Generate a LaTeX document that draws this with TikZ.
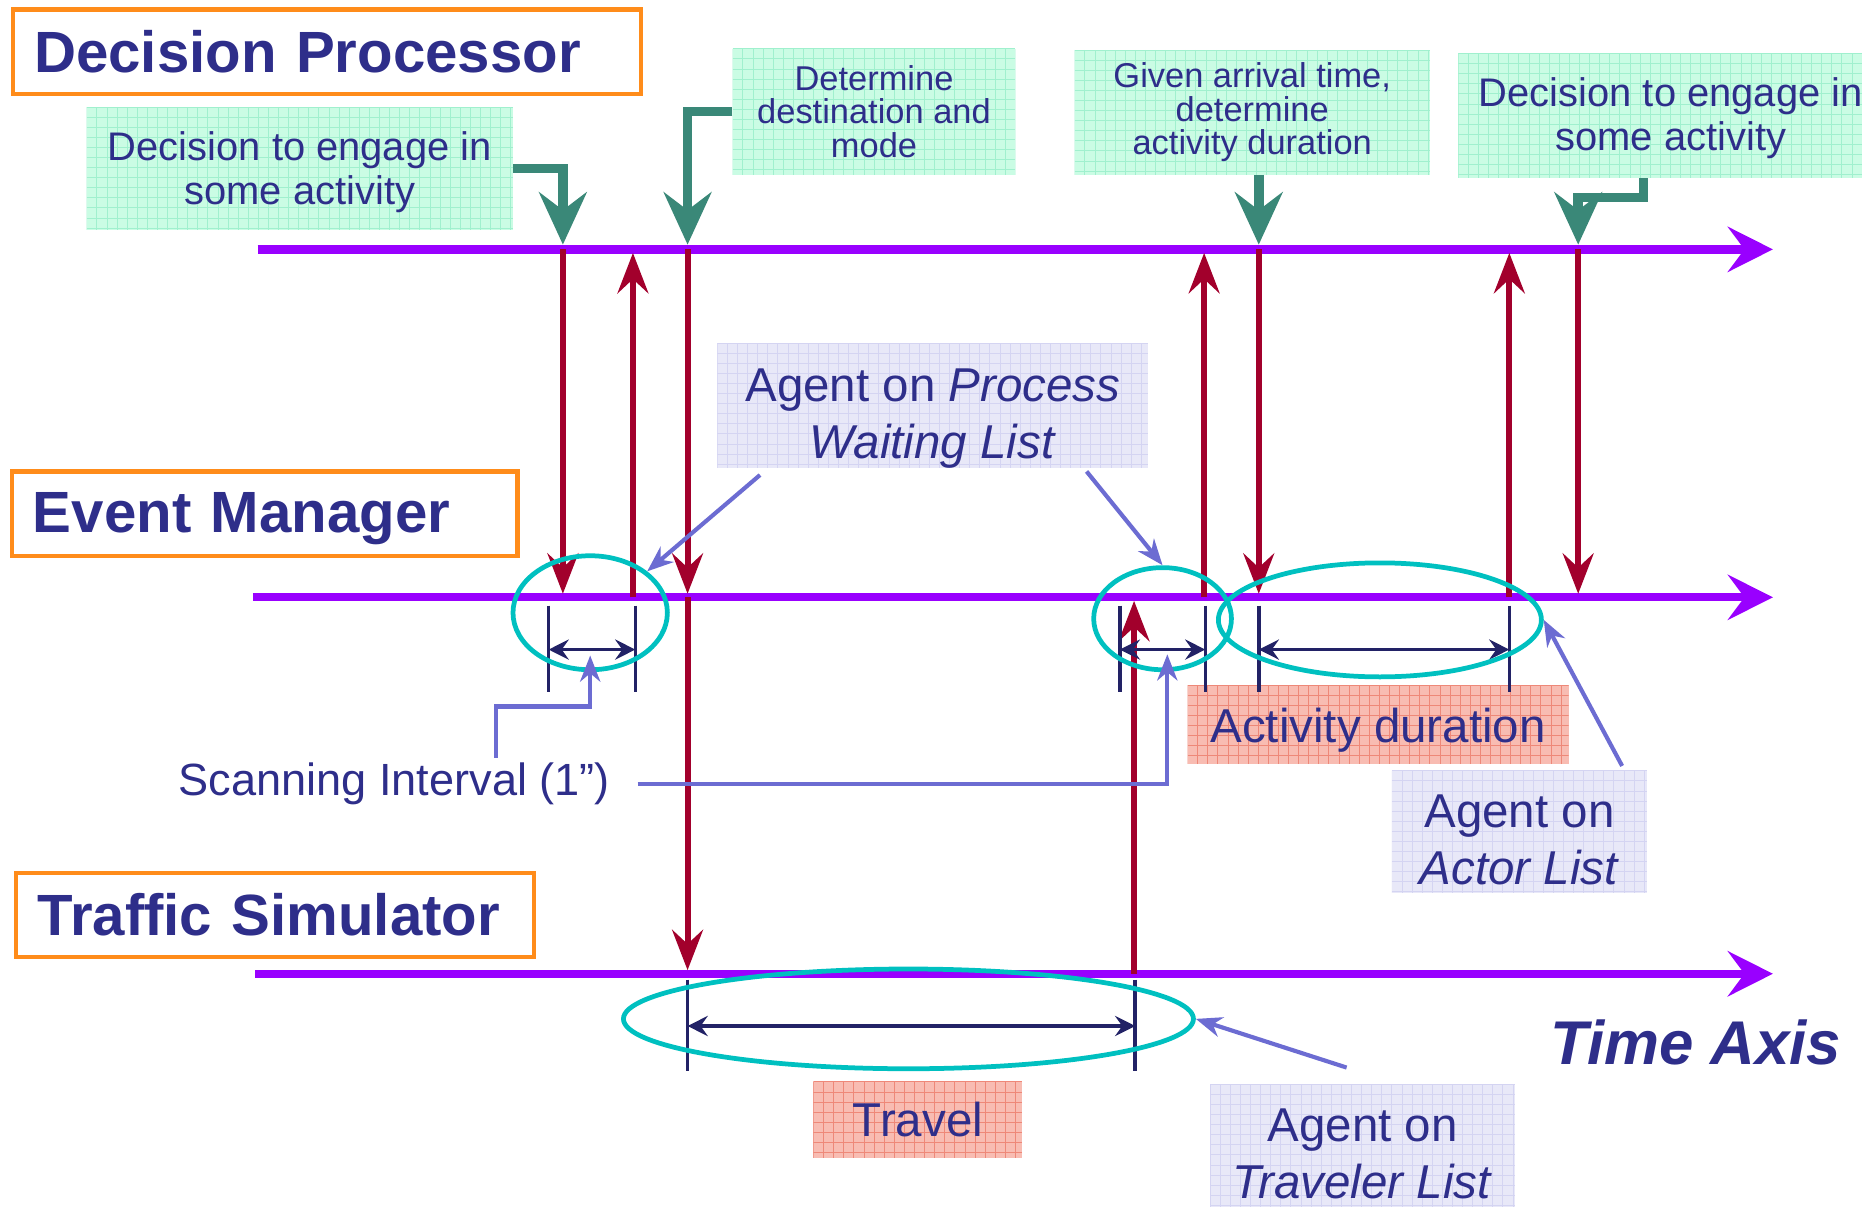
\documentclass[tikz,border=0pt]{standalone}
\usepackage{fontspec}
\setmainfont{Liberation Sans}
\usetikzlibrary{arrows.meta,shapes.geometric}

\definecolor{inkblue}{RGB}{46,46,138}
\definecolor{axisviolet}{RGB}{153,0,255}
\definecolor{frameorange}{RGB}{255,140,26}
\definecolor{msgred}{RGB}{162,0,44}
\definecolor{leadgreen}{RGB}{58,136,120}
\definecolor{ticknavy}{RGB}{34,34,102}
\definecolor{ringcyan}{RGB}{0,192,192}
\definecolor{pointerblue}{RGB}{108,108,210}
\definecolor{mintfill}{RGB}{202,252,228}
\definecolor{mintgrid}{RGB}{160,240,206}
\definecolor{pinkfill}{RGB}{248,188,178}
\definecolor{pinkgrid}{RGB}{238,136,120}
\definecolor{lilacfill}{RGB}{232,232,248}
\definecolor{lilacgrid}{RGB}{212,212,242}

% invisible strut that sets the height of a first text line
\newcommand\padtop[1]{\rule{0pt}{#1}}

\tikzset{
  gridded/.style={path picture={
      \foreach \k in {0,8.5,...,425}{
        \draw[#1,line width=0.6pt]
          ([xshift=\k pt]path picture bounding box.north west) --
          ([xshift=\k pt]path picture bounding box.south west);
        \draw[#1,line width=0.6pt]
          ([yshift=-\k pt]path picture bounding box.north west) --
          ([yshift=-\k pt]path picture bounding box.north east);
      }}},
  headbox/.style={draw=frameorange, line width=3.5pt, anchor=west, inner xsep=18pt,
    inner ysep=0pt, minimum height=71pt, align=left, text=inkblue,
    font=\fontsize{49}{56}\selectfont\bfseries},
  mintnote/.style={fill=mintfill, gridded=mintgrid, align=center, text=inkblue, inner sep=0pt},
  pinknote/.style={fill=pinkfill, gridded=pinkgrid, align=center, text=inkblue,
    inner sep=0pt, font=\fontsize{40}{48}\selectfont},
  lilacnote/.style={fill=lilacfill, gridded=lilacgrid, align=center, text=inkblue,
    inner sep=0pt, font=\fontsize{40}{48}\selectfont},
  timeline/.style={draw=axisviolet, line width=7pt, -{Stealth[length=38pt,width=38pt,inset=14pt]}},
  msg/.style={draw=msgred, line width=5pt, shorten >=3pt,
    -{Stealth[length=34pt,width=26pt,inset=12pt]}},
  lead/.style={draw=leadgreen, line width=8pt, shorten >=4pt,
    -{Stealth[length=44pt,width=40pt,inset=15pt]}},
  tickmark/.style={draw=ticknavy, line width=3pt},
  dimspan/.style={draw=ticknavy, line width=3pt,
    {Stealth[length=17pt,width=17pt,inset=6pt]}-{Stealth[length=17pt,width=17pt,inset=6pt]}},
  ring/.style={ellipse, draw=ringcyan, line width=4pt, inner sep=0pt},
  pointer/.style={draw=pointerblue, line width=3.5pt,
    -{Stealth[length=22pt,width=17pt,inset=7pt]}},
  plaintext/.style={text=inkblue, inner sep=0pt},
}

\begin{document}
\begin{tikzpicture}[x=1pt,y=-1pt,line join=miter]
\useasboundingbox (0,0) rectangle (1568,1016);
\clip (0,0) rectangle (1568,1016);

% module titles
\node[headbox, text width=493pt] (hdp) at (9,43.5) {Decision Processor};
\node[headbox, text width=390pt] (hem) at (8,432.5) {\padtop{43pt}Event Manager};
\node[headbox, text width=400pt] (hts) at (12,770.5) {Traffic Simulator};

% decision notes
\node[mintnote, minimum width=359pt, minimum height=104pt,
      font=\fontsize{33.6}{37}\selectfont] (gdec1) at (252.5,142) {\padtop{30pt}Decision to engage in\\some activity};
\node[mintnote, minimum width=238pt, minimum height=106pt,
      font=\fontsize{29}{28.5}\selectfont] (gdet) at (736,94) {Determine\\destination and\\mode};
\node[mintnote, minimum width=299pt, minimum height=105pt,
      font=\fontsize{29}{28.5}\selectfont] (ggiv) at (1054.5,94.5) {Given arrival time,\\determine\\activity duration};
\node[mintnote, minimum width=358pt, minimum height=105pt,
      font=\fontsize{33.6}{37}\selectfont] (gdec2) at (1407,97.5) {\padtop{28pt}Decision to engage in\\some activity};

% list notes
\node[lilacnote, minimum width=363pt, minimum height=105pt] (proc) at (785.5,341.5)
  {\padtop{49pt}Agent on \textit{Process}\\\textit{Waiting List}};
\node[lilacnote, minimum width=215pt, minimum height=103pt] (actor) at (1279.5,700.5)
  {\padtop{41pt}Agent on\\\textit{Actor List}};
\node[lilacnote, minimum width=257pt, minimum height=112pt] (trav) at (1147.5,969)
  {\padtop{33pt}Agent on\\\textit{Traveler List}};

% duration notes
\node[pinknote, minimum width=321pt, minimum height=66pt] (actdur) at (1160.5,610)
  {\padtop{39pt}Activity duration};
\node[pinknote, minimum width=176pt, minimum height=64pt] (travel) at (773,943) {Travel};

\node[plaintext, font=\fontsize{38}{44}\selectfont] (scan) at (332,660) {Scanning Interval (1”)};
\node[plaintext, font=\fontsize{52}{60}\selectfont\bfseries\itshape] (taxis) at (1428,878) {Time Axis};

% time axes
\coordinate (dpL) at (217,210);
\coordinate (emL) at (213,503);
\coordinate (tsL) at (215,820);
\coordinate (axend) at (1493,0);
\draw[timeline] (dpL) -- (axend |- dpL);
\draw[timeline] (emL) -- (axend |- emL);
\draw[timeline] (tsL) -- (axend |- tsL);

% event instants
\coordinate (e1) at (474,0);
\coordinate (e2) at (533,0);
\coordinate (e3) at (579,0);
\coordinate (e4) at (955,0);
\coordinate (e5) at (1014,0);
\coordinate (e6) at (1060,0);
\coordinate (e7) at (1271,0);
\coordinate (e8) at (1329,0);

% messages between modules
\draw[msg] (e1 |- dpL) -- (e1 |- emL);
\draw[msg] (e2 |- emL) -- (e2 |- dpL);
\draw[msg] (e3 |- dpL) -- (e3 |- emL);
\draw[msg] (e3 |- emL) -- (e3 |- tsL);
\draw[msg] (e4 |- tsL) -- (e4 |- emL);
\draw[msg] (e5 |- emL) -- (e5 |- dpL);
\draw[msg] (e6 |- dpL) -- (e6 |- emL);
\draw[msg] (e7 |- emL) -- (e7 |- dpL);
\draw[msg] (e8 |- dpL) -- (e8 |- emL);

% decisions feeding the decision processor axis
\draw[lead] (gdec1.east) -| (e1 |- dpL);
\draw[lead] (gdet.west) -| (e3 |- dpL);
\draw[lead] (e6 |- ggiv.south) -- (e6 |- dpL);
\draw[lead] ([xshift=-23pt]gdec2.south) -- ++(0,16) -| (e8 |- dpL);

% interval marks
\foreach \tx in {462,535,943,1015,1060,1271}
  \draw[tickmark] (\tx,510) -- (\tx,583);
\foreach \tx in {579,956}
  \draw[tickmark] (\tx,825) -- (\tx,902);
\draw[dimspan] (462,547) -- (535,547);
\draw[dimspan] (943,547) -- (1015,547);
\draw[dimspan] (1060,547) -- (1271,547);
\draw[dimspan] (579,864) -- (956,864);

% list membership rings
\node[ring, minimum width=130pt, minimum height=96pt] (rA) at (497,516) {};
\node[ring, minimum width=116pt, minimum height=86pt] (rB) at (979,521) {};
\node[ring, minimum width=272pt, minimum height=96pt] (rC) at (1162,522) {};
\node[ring, minimum width=480pt, minimum height=84pt] (rD) at (765,858) {};

% pointers
\coordinate (pA) at (640,400);
\coordinate (pB) at (915,397);
\coordinate (pC) at (1366,645);
\coordinate (pD) at (1134,899);
\draw[pointer] (pA) -- (rA.36);
\draw[pointer] (pB) -- (rB.north);
\draw[pointer] (pC) -- (rC.east);
\draw[pointer] (pD) -- (rD.east);
\coordinate (sA) at (418,638);
\coordinate (sAend) at (497,552);
\coordinate (sB) at (537,660);
\coordinate (sBend) at (983,551);
\draw[pointer] (sA) |- (497,595) -- (sAend);
\draw[pointer] (sB) -| (sBend);
\end{tikzpicture}
\end{document}
